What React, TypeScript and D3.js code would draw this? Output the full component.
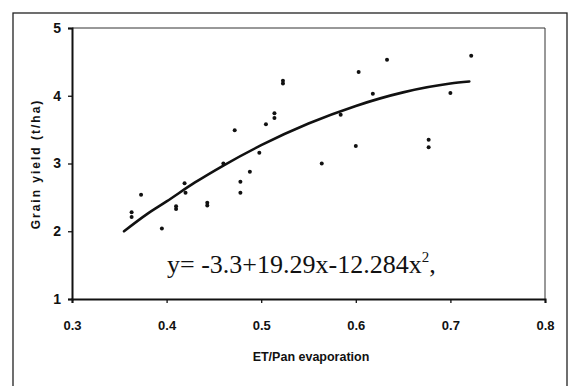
import React, { useRef, useEffect } from 'react';
import * as d3 from 'd3';

const obsX = [0.363, 0.363, 0.373, 0.395, 0.41, 0.41, 0.419, 0.42, 0.443, 0.443, 0.46, 0.472, 0.478, 0.478, 0.488, 0.498, 0.505, 0.514, 0.514, 0.523, 0.523, 0.564, 0.584, 0.6, 0.603, 0.618, 0.633, 0.677, 0.677, 0.7, 0.722];
const obsY = [2.28, 2.21, 2.54, 2.04, 2.33, 2.37, 2.71, 2.57, 2.38, 2.42, 3.0, 3.49, 2.73, 2.57, 2.88, 3.16, 3.58, 3.74, 3.67, 4.18, 4.22, 3.0, 3.72, 3.26, 4.35, 4.03, 4.53, 3.35, 3.24, 4.04, 4.59];

// fitted curve as drawn
const fitX = [0.355, 0.38, 0.4, 0.43, 0.46, 0.5, 0.55, 0.6, 0.65, 0.7, 0.72];
const fitY = [2.0, 2.26, 2.44, 2.72, 2.97, 3.27, 3.59, 3.85, 4.05, 4.18, 4.21];

const xTicks = [0.3, 0.4, 0.5, 0.6, 0.7, 0.8];
const yTicks = [1, 2, 3, 4, 5];

const xTitle = 'ET/Pan evaporation';
const yTitle = 'Grain yield (t/ha)';

export default function App() {
    const svgRef = useRef<SVGSVGElement | null>(null);

    useEffect(() => {
        if (!svgRef.current) return;
        const svg = d3.select(svgRef.current);
        svg.selectAll('*').remove();

        const W = 574, H = 386;
        const left = 72, right = 545, top = 28, bottom = 299;
        const font = '"Liberation Sans", Arial, sans-serif';

        const x = d3.scaleLinear().domain([0.3, 0.8]).range([left, right]);
        const y = d3.scaleLinear().domain([1, 5]).range([bottom, top]);

        svg.append('rect').attr('width', W).attr('height', H).attr('fill', '#fff');

        // outer frame
        svg.append('rect')
            .attr('x', 13).attr('y', 13).attr('width', 554).attr('height', 380)
            .attr('fill', 'none').attr('stroke', '#222').attr('stroke-width', 1.3);

        // plot frame (top/right lighter)
        svg.append('path')
            .attr('d', `M${left},${top}H${right}V${bottom}`)
            .attr('fill', 'none').attr('stroke', '#333').attr('stroke-width', 1);

        const xAxis = svg.append('g').attr('transform', `translate(0,${bottom})`)
            .call(d3.axisBottom(x).tickValues(xTicks).tickSize(4).tickFormat(d3.format('.1f')));
        xAxis.select('.domain').attr('stroke', '#111').attr('stroke-width', 2);
        xAxis.selectAll('.tick line').attr('stroke', '#111').attr('stroke-width', 1.3);
        xAxis.selectAll('.tick text')
            .attr('y', 22).attr('font-family', font).attr('font-weight', 'bold')
            .attr('font-size', 13).attr('fill', '#111');

        const yAxis = svg.append('g').attr('transform', `translate(${left},0)`)
            .call(d3.axisLeft(y).tickValues(yTicks).tickSize(4).tickFormat(d3.format('d')));
        yAxis.select('.domain').attr('stroke', '#111').attr('stroke-width', 2);
        yAxis.selectAll('.tick line').attr('stroke', '#111').attr('stroke-width', 1.3);
        yAxis.selectAll('.tick text')
            .attr('x', -11).attr('font-family', font).attr('font-weight', 'bold')
            .attr('font-size', 14).attr('fill', '#111');

        svg.append('text')
            .attr('x', 311).attr('y', 361)
            .attr('text-anchor', 'middle')
            .attr('font-family', font).attr('font-weight', 'bold')
            .attr('font-size', 12.5).attr('fill', '#111')
            .text(xTitle);

        svg.append('text')
            .attr('transform', `translate(40,164) rotate(-90)`)
            .attr('text-anchor', 'middle')
            .attr('font-family', font).attr('font-weight', 'bold')
            .attr('font-size', 12).attr('letter-spacing', 2)
            .attr('fill', '#111')
            .text(yTitle);

        // fitted curve
        const line = d3.line<number>()
            .x(d => x(d))
            .y((d, i) => y(fitY[i]))
            .curve(d3.curveMonotoneX);
        svg.append('path')
            .attr('d', line(fitX))
            .attr('fill', 'none').attr('stroke', '#111').attr('stroke-width', 2.6)
            .attr('stroke-linecap', 'round');

        // points
        svg.append('g').selectAll('circle')
            .data(obsX)
            .join('circle')
            .attr('cx', d => x(d))
            .attr('cy', (d, i) => y(obsY[i]))
            .attr('r', 2)
            .attr('fill', '#111');

        // equation
        const eq = svg.append('text')
            .attr('x', 167).attr('y', 273)
            .attr('font-family', '"Liberation Serif", "Times New Roman", serif')
            .attr('font-size', 26).attr('fill', '#111');
        eq.append('tspan').text('y= -3.3+19.29x-12.284x');
        eq.append('tspan').attr('dy', -11).attr('font-size', 15).text('2');
        eq.append('tspan').attr('dy', 11).text(',');
    }, []);

    return (
        <div style={{ position: 'absolute', left: 0, top: 0 }}>
            <svg ref={svgRef} width={574} height={386} style={{ display: 'block' }}></svg>
        </div>
    );
}
